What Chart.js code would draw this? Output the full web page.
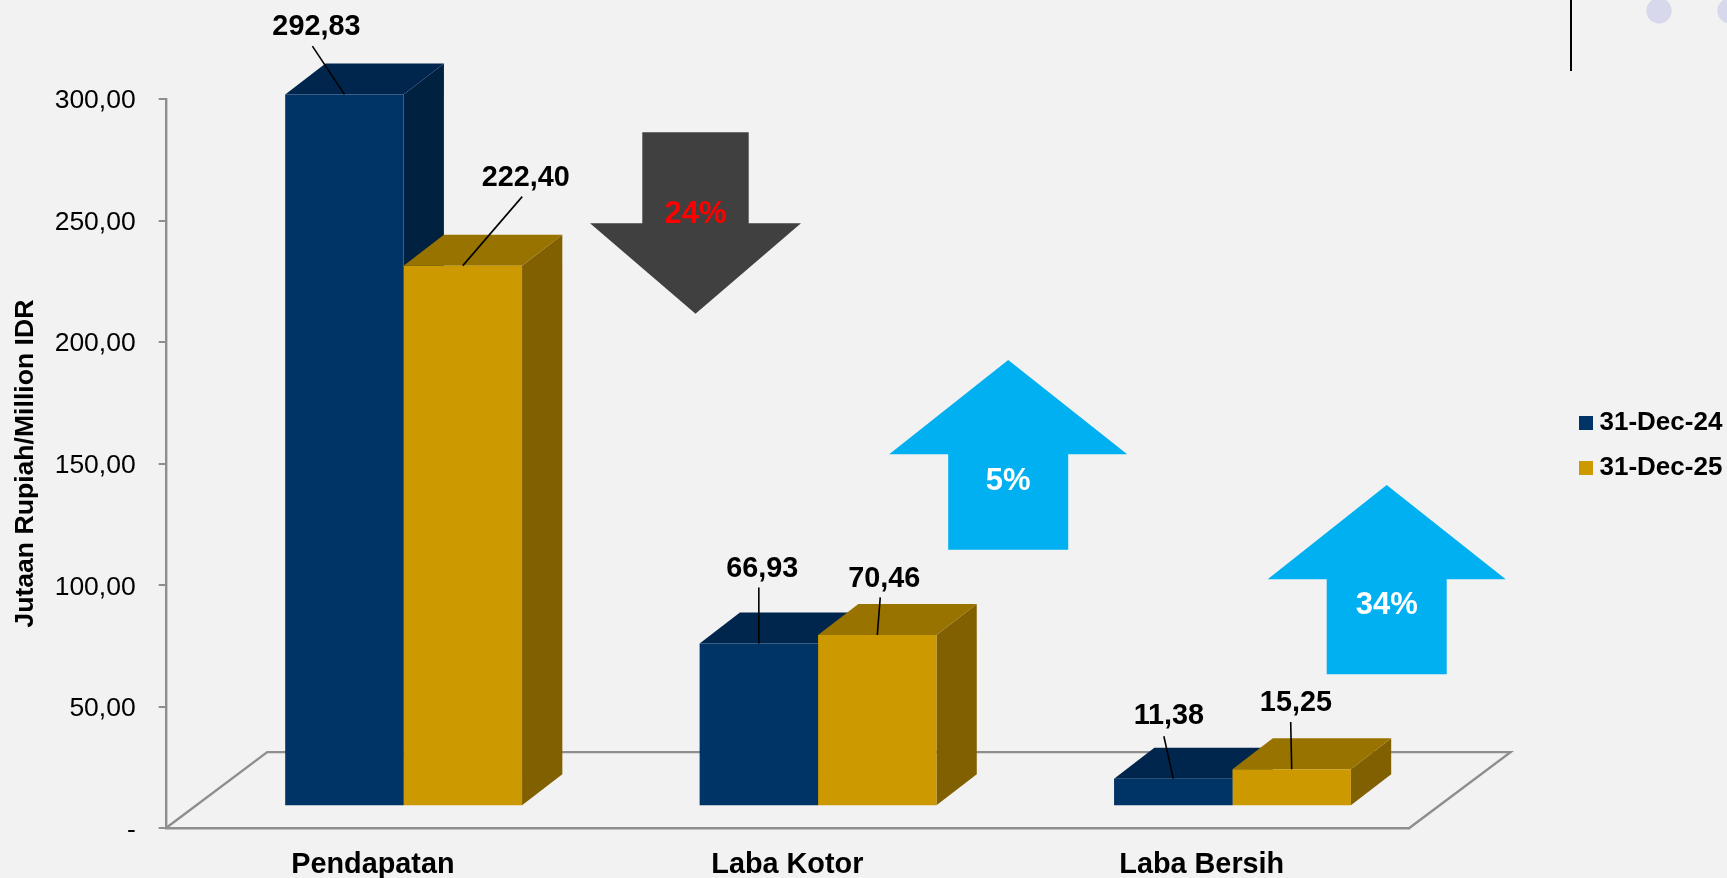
<!DOCTYPE html>
<html><head><meta charset="utf-8">
<style>html,body{margin:0;padding:0;background:#F2F2F2;overflow:hidden}#w{width:1727px;height:878px}</style>
<script src="https://cdn.jsdelivr.net/npm/chart.js@4"></script>
</head><body><div id="w"><canvas id="c"></canvas></div>
<script>
const categories = ['Pendapatan', 'Laba Kotor', 'Laba Bersih'];
const seriesNames = ['31-Dec-24', '31-Dec-25'];
const values2024 = [292.83, 66.93, 11.38];
const values2025 = [222.40, 70.46, 15.25];
const yTickLabels = ['-', '50,00', '100,00', '150,00', '200,00', '250,00', '300,00'];
const changeLabels = ['24%', '5%', '34%'];
const yTitle = 'Jutaan Rupiah/Million IDR';

const FONT = '"Liberation Sans", Arial, sans-serif';
const SHIFT = {x: 30.7, y: -22};
const DEPTH = {x: 40.3, y: 31};
const FLOOR = {x: 101.5, y: 76.2};
const AXIS = '#8E8E8E';
const FACES = [
  {front: '#003366', top: '#00264D', side: '#00213F'},
  {front: '#CC9900', top: '#997300', side: '#806000'}
];
const LABEL_POS = [
  [{dx: -28, dy: -68, lx: -32, ly: -48.3}, {dx: 3.5, dy: -76, lx: 0, ly: -56}, {dx: -4.4, dy: -63.5, lx: -9.4, ly: -42.4}],
  [{dx: 63, dy: -89, lx: 59.4, ly: -69}, {dx: 7, dy: -57, lx: 3, ly: -37.6}, {dx: 4.2, dy: -67.6, lx: -1, ly: -47.3}]
];

function fillPoly(ctx, pts) {
  ctx.beginPath();
  pts.forEach((p, i) => i ? ctx.lineTo(p[0], p[1]) : ctx.moveTo(p[0], p[1]));
  ctx.closePath();
  ctx.fill();
}
function arrowShape(cx, tipY, shoulderY, endY, halfWing, halfShaft) {
  return [[cx, tipY], [cx + halfWing, shoulderY], [cx + halfShaft, shoulderY], [cx + halfShaft, endY],
          [cx - halfShaft, endY], [cx - halfShaft, shoulderY], [cx - halfWing, shoulderY]];
}

const decor = {
  id: 'decor',
  beforeDatasetsDraw(chart) {
    const {ctx, chartArea: a} = chart;
    ctx.save();
    ctx.fillStyle = '#D8D8EC';
    [[1659, 10.7], [1730, 10.7]].forEach(c => { ctx.beginPath(); ctx.arc(c[0], c[1], 12.7, 0, Math.PI * 2); ctx.fill(); });
    ctx.strokeStyle = '#000'; ctx.lineWidth = 2;
    ctx.beginPath(); ctx.moveTo(1571, 0); ctx.lineTo(1571, 71); ctx.stroke();
    ctx.strokeStyle = AXIS; ctx.lineWidth = 2.4;
    ctx.beginPath();
    ctx.moveTo(a.left, a.bottom);
    ctx.lineTo(a.left + FLOOR.x, a.bottom - FLOOR.y);
    ctx.lineTo(a.right + FLOOR.x, a.bottom - FLOOR.y);
    ctx.lineTo(a.right, a.bottom);
    ctx.stroke();
    ctx.restore();
    ctx.save();
    ctx.translate(SHIFT.x, SHIFT.y);
    // side and top faces, left to right; the library's own bars are the front faces drawn over them
    chart.data.labels.forEach((_, j) => {
      chart.data.datasets.forEach((ds, i) => {
        const b = chart.getDatasetMeta(i).data[j], f = FACES[i];
        const l = b.x - b.width / 2, r = b.x + b.width / 2, t = b.y, bt = b.base;
        ctx.fillStyle = f.side;
        fillPoly(ctx, [[r, t], [r + DEPTH.x, t - DEPTH.y], [r + DEPTH.x, bt - DEPTH.y], [r, bt]]);
        ctx.fillStyle = f.top;
        fillPoly(ctx, [[l, t], [l + DEPTH.x, t - DEPTH.y], [r + DEPTH.x, t - DEPTH.y], [r, t]]);
      });
    });
  },
  afterDatasetsDraw(chart) {
    const {ctx} = chart;
    ctx.restore();
    ctx.save();
    ctx.textAlign = 'center'; ctx.textBaseline = 'middle';
    chart.data.datasets.forEach((ds, i) => {
      chart.getDatasetMeta(i).data.forEach((b, j) => {
        const o = LABEL_POS[i][j];
        const x = b.x + SHIFT.x, y = b.y + SHIFT.y;
        ctx.strokeStyle = '#000'; ctx.lineWidth = 1.6;
        ctx.beginPath(); ctx.moveTo(x, y); ctx.lineTo(x + o.lx, y + o.ly); ctx.stroke();
        ctx.fillStyle = '#000'; ctx.font = 'bold 28.8px ' + FONT;
        ctx.fillText(ds.data[j].toFixed(2).replace('.', ','), x + o.dx, y + o.dy + 1);
      });
    });
    const arrows = [
      {fill: '#404040', pts: arrowShape(695.5, 313.7, 223.3, 132.3, 105.5, 53.2), tx: 695.5, ty: 214, col: '#FF0000'},
      {fill: '#00B0F0', pts: arrowShape(1008.2, 360, 454.3, 549.7, 119, 60), tx: 1008.2, ty: 481, col: '#FFFFFF'},
      {fill: '#00B0F0', pts: arrowShape(1386.7, 485, 579.3, 674.3, 119, 60), tx: 1386.7, ty: 605.5, col: '#FFFFFF'}
    ];
    arrows.forEach((ar, i) => {
      ctx.fillStyle = ar.fill; fillPoly(ctx, ar.pts);
      ctx.fillStyle = ar.col; ctx.font = 'bold 31px ' + FONT;
      ctx.fillText(changeLabels[i], ar.tx, ar.ty);
    });
    ctx.restore();
  },
  afterLayout(chart) {
    const lg = chart.legend;
    lg.left = 1566.5; lg.right = 1727; lg.top = 391; lg.bottom = 502;
  }
};

new Chart(document.getElementById('c'), {
  type: 'bar',
  data: {
    labels: categories,
    datasets: [
      {label: seriesNames[0], data: values2024, backgroundColor: FACES[0].front, clip: false},
      {label: seriesNames[1], data: values2025, backgroundColor: FACES[1].front, clip: false}
    ]
  },
  plugins: [decor],
  options: {
    responsive: true, maintainAspectRatio: false, animation: false,
    layout: {padding: {top: 99, right: 318, left: 0, bottom: 0}},
    datasets: {bar: {categoryPercentage: 0.5715, barPercentage: 1, borderWidth: 0}},
    plugins: {
      tooltip: {enabled: false},
      legend: {
        display: true, position: 'chartArea', align: 'start',
        labels: {
          boxWidth: 1, boxHeight: 1, padding: 19, color: '#000',
          font: {family: FONT, size: 26, weight: 'bold'},
          generateLabels(chart) {
            return chart.data.datasets.map((ds, i) => ({
              text: ds.label, fillStyle: FACES[i].front, strokeStyle: FACES[i].front,
              lineWidth: 13, fontColor: '#000', datasetIndex: i, hidden: false
            }));
          }
        }
      }
    },
    scales: {
      x: {
        afterFit(s) { s.height = 49.7; },
        grid: {display: false},
        border: {display: true, color: AXIS, width: 2.4},
        ticks: {color: '#000', padding: 11, font: {family: FONT, size: 28.8, weight: 'bold'}, maxRotation: 0}
      },
      y: {
        min: 0, max: 300,
        afterFit(s) { s.width = 165.7; },
        grid: {drawOnChartArea: false, drawTicks: true, tickLength: 7, color: AXIS, lineWidth: 2},
        border: {display: true, color: AXIS, width: 2.4},
        title: {display: true, text: yTitle, color: '#000', padding: {top: 10, bottom: 0},
                font: {family: FONT, size: 26.6, weight: 'bold'}},
        ticks: {stepSize: 50, padding: 23, labelOffset: 2, color: '#000', font: {family: FONT, size: 26.5},
                callback(v) { return yTickLabels[Math.round(v / 50)]; }}
      }
    }
  }
});
</script></body></html>
